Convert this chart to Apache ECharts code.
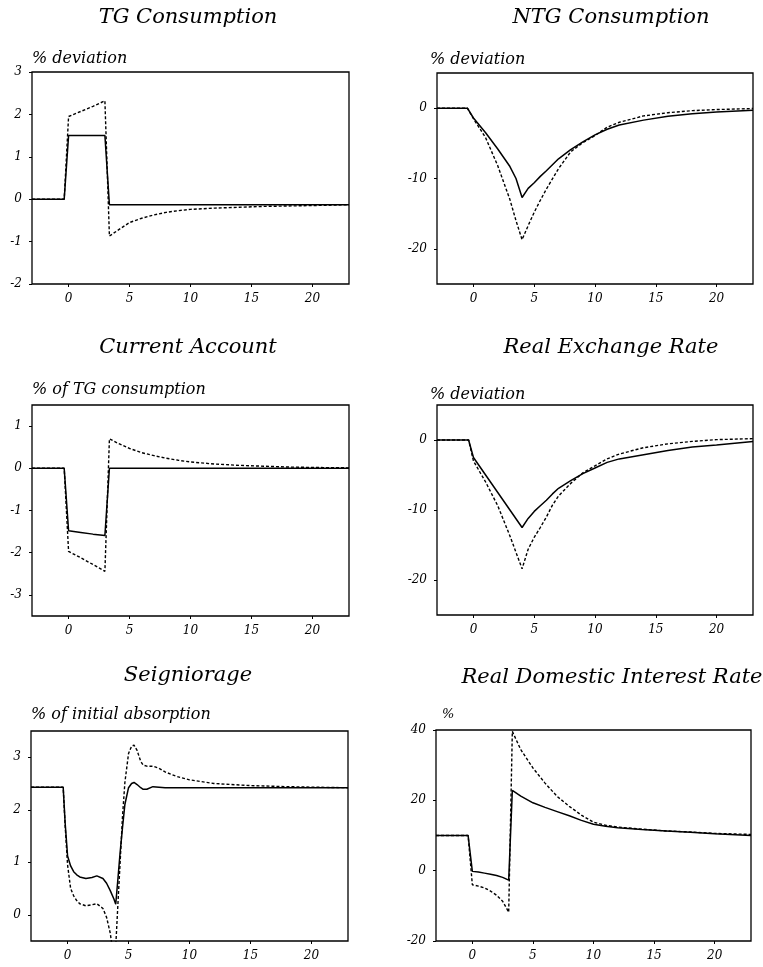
<!DOCTYPE html>
<html>
<head>
<meta charset="utf-8">
<script src="https://cdn.jsdelivr.net/npm/echarts@6/dist/echarts.min.js"></script>
<style>
html,body{margin:0;padding:0;background:#fff;}
#c{width:763px;height:967px;}
</style>
</head>
<body>
<div id="c"></div>
<script>
// ---------- DATA ----------
const xTickValues = [0, 5, 10, 15, 20];

const titles = ['TG Consumption', 'NTG Consumption', 'Current Account', 'Real Exchange Rate', 'Seigniorage', 'Real Domestic Interest Rate'];
const units = ['% deviation', '% deviation', '% of TG consumption', '% deviation', '% of initial absorption', '%'];

// TG Consumption
const tgTime   = [-3, -0.36, 0, 1, 2, 2.98, 3.35, 4, 5, 6, 7, 8, 9, 10, 12, 14, 16, 18, 20, 23];
const tgSolid  = [0, 0, 1.5, 1.5, 1.5, 1.5, -0.13, -0.13, -0.13, -0.13, -0.13, -0.13, -0.13, -0.13, -0.13, -0.13, -0.13, -0.13, -0.13, -0.13];
const tgDashed = [0, 0, 1.95, 2.07, 2.19, 2.32, -0.87, -0.74, -0.55, -0.45, -0.37, -0.31, -0.27, -0.24, -0.21, -0.19, -0.17, -0.16, -0.15, -0.13];
const tgYTicks = [-2, -1, 0, 1, 2, 3];

// NTG Consumption
const ntgTime   = [-3, -0.5, 0, 1, 2, 3, 3.5, 4, 4.5, 5, 5.5, 6, 7, 8, 9, 10, 11, 12, 14, 16, 18, 20, 23];
const ntgSolid  = [0, 0, -1.4, -3.5, -5.8, -8.3, -10.0, -12.7, -11.4, -10.6, -9.7, -8.9, -7.2, -5.9, -4.8, -3.8, -3.0, -2.4, -1.7, -1.15, -0.8, -0.55, -0.3];
const ntgDashed = [0, 0, -1.5, -4.2, -8.2, -13.0, -16.0, -18.7, -16.7, -14.8, -13.1, -11.5, -8.6, -6.2, -4.9, -3.9, -2.7, -2.0, -1.1, -0.65, -0.35, -0.2, -0.05];
const ntgYTicks = [-20, -10, 0];

// Current Account
const caTime   = [-3, -0.36, 0, 1, 2, 2.98, 3.35, 4, 5, 6, 7, 8, 9, 10, 12, 14, 16, 18, 20, 23];
const caSolid  = [0, 0, -1.48, -1.52, -1.56, -1.59, 0, 0, 0, 0, 0, 0, 0, 0, 0, 0, 0, 0, 0, 0];
const caDashed = [0, 0, -1.97, -2.12, -2.28, -2.44, 0.70, 0.60, 0.47, 0.37, 0.30, 0.24, 0.19, 0.15, 0.10, 0.07, 0.05, 0.03, 0.02, 0.01];
const caYTicks = [-3, -2, -1, 0, 1];

// Real Exchange Rate
const rerTime   = [-3, -0.4, 0, 1, 2, 3, 4, 4.5, 5, 5.5, 6, 6.5, 7, 8, 9, 10, 11, 12, 14, 16, 18, 20, 23];
const rerSolid  = [0, 0, -2.5, -5.0, -7.5, -10.0, -12.5, -11.2, -10.2, -9.4, -8.6, -7.7, -6.9, -5.8, -4.8, -4.0, -3.2, -2.7, -2.1, -1.5, -1.0, -0.7, -0.2];
const rerDashed = [0, 0, -3.0, -6.0, -9.4, -13.7, -18.4, -15.6, -13.9, -12.5, -11.0, -9.3, -8.0, -6.2, -4.7, -3.7, -2.7, -2.0, -1.1, -0.55, -0.2, 0.05, 0.2];
const rerYTicks = [-20, -10, 0];

// Seigniorage
const sgTime   = [-3, -0.36, -0.2, 0, 0.25, 0.5, 0.75, 1, 1.5, 2, 2.4, 2.9, 3.2, 3.5, 3.8, 3.95, 4.15, 4.3, 4.5, 4.7, 5, 5.25, 5.45, 5.7, 6, 6.2, 6.5, 7, 7.5, 8, 9, 10, 12, 15, 18, 20, 23];
const sgSolid  = [2.43, 2.43, 1.75, 1.12, 0.93, 0.82, 0.76, 0.72, 0.69, 0.71, 0.74, 0.69, 0.60, 0.46, 0.30, 0.20, 0.74, 1.16, 1.65, 2.10, 2.42, 2.50, 2.52, 2.48, 2.42, 2.39, 2.39, 2.44, 2.43, 2.42, 2.42, 2.42, 2.42, 2.42, 2.42, 2.42, 2.42];
const sgDashed = [2.43, 2.43, 1.70, 0.95, 0.50, 0.36, 0.27, 0.21, 0.17, 0.19, 0.21, 0.12, -0.05, -0.35, -0.85, -0.60, 0.30, 0.95, 1.85, 2.52, 3.07, 3.21, 3.23, 3.13, 2.92, 2.85, 2.83, 2.83, 2.79, 2.72, 2.63, 2.57, 2.50, 2.46, 2.44, 2.43, 2.42];
const sgYTicks = [0, 1, 2, 3];

// Real Domestic Interest Rate
const irTime   = [-3, -0.35, 0, 0.5, 1, 1.5, 2, 2.5, 3, 3.3, 4, 5, 6, 7, 8, 9, 10, 11, 12, 14, 16, 18, 20, 23];
const irSolid  = [10, 10, -0.2, -0.4, -0.7, -1.0, -1.4, -1.9, -2.7, 22.8, 21.2, 19.3, 18.0, 16.8, 15.6, 14.3, 13.2, 12.6, 12.2, 11.7, 11.3, 10.9, 10.5, 10.0];
const irDashed = [10, 10, -4.0, -4.4, -4.9, -5.8, -7.0, -8.7, -11.8, 39.6, 34.4, 29.2, 24.9, 21.1, 18.3, 15.8, 13.8, 12.9, 12.4, 11.8, 11.3, 11.0, 10.6, 10.3];
const irYTicks = [-20, 0, 20, 40];

// ---------- LAYOUT / STYLE ----------
const FONT = '"DejaVu Serif", serif';
const panels = [
  {t: tgTime,  s: tgSolid,  d: tgDashed,  ticks: tgYTicks,  ymin: -2,   ymax: 3,   grid: {left: 32,  top: 72,  width: 317, height: 212}, tx: 188, ty: 18,  gap: 12.7, pad: 0,  uSize: 16},
  {t: ntgTime, s: ntgSolid, d: ntgDashed, ticks: ntgYTicks, ymin: -25,  ymax: 5,   grid: {left: 437, top: 73,  width: 316, height: 211}, tx: 611, ty: 18,  gap: 13,   pad: -7, uSize: 16},
  {t: caTime,  s: caSolid,  d: caDashed,  ticks: caYTicks,  ymin: -3.5, ymax: 1.5, grid: {left: 32,  top: 405, width: 317, height: 211}, tx: 188, ty: 348, gap: 15,   pad: 0,  uSize: 16},
  {t: rerTime, s: rerSolid, d: rerDashed, ticks: rerYTicks, ymin: -25,  ymax: 5,   grid: {left: 437, top: 405, width: 316, height: 210}, tx: 611, ty: 348, gap: 10,   pad: -7, uSize: 16},
  {t: sgTime,  s: sgSolid,  d: sgDashed,  ticks: sgYTicks,  ymin: -0.5, ymax: 3.5, grid: {left: 31,  top: 731, width: 317, height: 210}, tx: 188, ty: 676, gap: 15.7, pad: 0,  uSize: 16},
  {t: irTime,  s: irSolid,  d: irDashed,  ticks: irYTicks,  ymin: -20,  ymax: 40,  grid: {left: 436, top: 730, width: 315, height: 211}, tx: 612, ty: 678, gap: 15,   pad: 6,  uSize: 13}
];

const labelStyle = {fontFamily: FONT, fontStyle: 'italic', fontSize: 12, color: '#000'};

const option = {
  animation: false,
  backgroundColor: '#fff',
  title: panels.map((p, i) => ({
    text: titles[i],
    left: p.tx,
    top: p.ty - 11,
    textAlign: 'center',
    padding: 0,
    textStyle: {fontFamily: FONT, fontStyle: 'italic', fontWeight: 'normal', fontSize: 21, color: '#000'}
  })),
  grid: panels.map(p => Object.assign({show: true, borderColor: '#000', borderWidth: 1.3, backgroundColor: 'transparent'}, p.grid)),
  xAxis: panels.map((p, i) => ({
    type: 'value', gridIndex: i, min: -3, max: 23, position: 'bottom',
    axisLine: {show: false, onZero: false},
    splitLine: {show: false},
    axisTick: {show: true, length: 3, customValues: xTickValues, lineStyle: {color: '#000', width: 1}},
    axisLabel: Object.assign({margin: 9, customValues: xTickValues}, labelStyle)
  })),
  yAxis: panels.map((p, i) => ({
    type: 'value', gridIndex: i, min: p.ymin, max: p.ymax, position: 'left',
    name: units[i], nameLocation: 'end', nameGap: p.gap,
    nameTextStyle: {fontFamily: FONT, fontStyle: 'italic', fontSize: p.uSize, color: '#000', align: 'left', verticalAlign: 'middle', padding: [0, 0, 0, p.pad]},
    axisLine: {show: false, onZero: false},
    splitLine: {show: false},
    axisTick: {show: true, length: 3, customValues: p.ticks, lineStyle: {color: '#000', width: 1}},
    axisLabel: Object.assign({margin: 10, customValues: p.ticks}, labelStyle)
  })),
  series: panels.flatMap((p, i) => ([
    {
      type: 'line', xAxisIndex: i, yAxisIndex: i, symbol: 'none', clip: true,
      data: p.t.map((x, k) => [x, p.d[k]]),
      lineStyle: {color: '#000', width: 1.4, type: [3, 2]}
    },
    {
      type: 'line', xAxisIndex: i, yAxisIndex: i, symbol: 'none', clip: true,
      data: p.t.map((x, k) => [x, p.s[k]]),
      lineStyle: {color: '#000', width: 1.5, type: 'solid'}
    }
  ]))
};

const chart = echarts.init(document.getElementById('c'), null, {renderer: 'canvas'});
chart.setOption(option);
</script>
</body>
</html>
